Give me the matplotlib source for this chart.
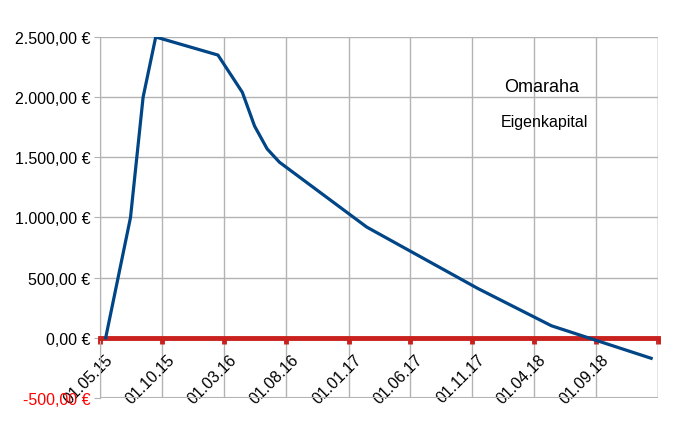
import datetime as dt
import matplotlib
matplotlib.use("Agg")
import matplotlib.pyplot as plt
import matplotlib.transforms as mtransforms
from matplotlib.ticker import FuncFormatter

plt.rcParams['font.family'] = ['Liberation Sans', 'DejaVu Sans']

# equity curve
dates = ["15.05.15", "15.07.15", "15.08.15", "15.09.15", "15.02.16", "15.04.16",
         "15.05.16", "15.06.16", "15.07.16", "15.02.17", "15.11.17", "15.05.18",
         "15.01.19"]
equity = [0, 1000, 2000, 2500, 2350, 2040, 1760, 1570, 1460, 920, 410, 100, -170]

tick_labels = ["01.05.15", "01.10.15", "01.03.16", "01.08.16", "01.01.17",
               "01.06.17", "01.11.17", "01.04.18", "01.09.18"]
x_end = "01.02.19"
y_ticks = [-500, 0, 500, 1000, 1500, 2000, 2500]

def to_date(s):
    return dt.datetime.strptime(s, "%d.%m.%y")

def euro(v, pos=None):
    s = f"{abs(v):,.2f}".replace(",", "X").replace(".", ",").replace("X", ".")
    return ("-" if v < 0 else "") + s + " €"

blue = "#004586"
red = "#c9211e"
grid = "#b3b3b3"

fig = plt.figure(figsize=(6.77, 4.27), dpi=100)
ax = fig.add_axes([0.1477, 0.0656, 0.8243, 0.8454])

# spines first: moving a spine resets the ticks
for s in ['top', 'right']:
    ax.spines[s].set_visible(False)
ax.spines['left'].set_color(grid)
ax.spines['bottom'].set_position(('data', 0))
ax.spines['bottom'].set_color(red)
ax.spines['bottom'].set_linewidth(3.5)
ax.spines['bottom'].set_zorder(3)

xd = [to_date(d) for d in dates]
ax.plot(xd, equity, color=blue, lw=2.3, solid_joinstyle='miter', zorder=4)

ticks = [to_date(t) for t in tick_labels] + [to_date(x_end)]
ax.set_xlim(ticks[0], ticks[-1])
ax.set_ylim(y_ticks[0], y_ticks[-1])
ax.set_xticks(ticks)
ax.set_xticklabels(tick_labels + [""])
ax.set_yticks(y_ticks)
ax.yaxis.set_major_formatter(FuncFormatter(euro))
ax.tick_params(axis='y', labelsize=11.5, length=4, color=grid, pad=3)
ax.tick_params(axis='x', labelsize=11.5, length=4, width=3.5, color=red, pad=2,
               direction='out', labelrotation=45)
shift = mtransforms.ScaledTranslation(5 / 100, -5 / 100, fig.dpi_scale_trans)
for lab in ax.get_xticklabels():
    lab.set_ha('right')
    lab.set_rotation_mode('anchor')
    lab.set_transform(lab.get_transform() + shift)
for lab in ax.get_yticklabels():
    if lab.get_text().startswith("-"):
        lab.set_color("red")

ax.grid(True, color=grid, lw=1)
ax.set_axisbelow(True)
ax.axhline(y_ticks[0], color=grid, lw=1.5, zorder=1)
ax.axvline(ticks[-1], color=grid, lw=1, zorder=1)

ax.text(0.791, 0.864, "Omaraha", transform=ax.transAxes, ha='center', va='center',
        fontsize=13)
ax.text(0.796, 0.765, "Eigenkapital", transform=ax.transAxes, ha='center', va='center',
        fontsize=11.5)

fig.savefig("out.png", dpi=100)
